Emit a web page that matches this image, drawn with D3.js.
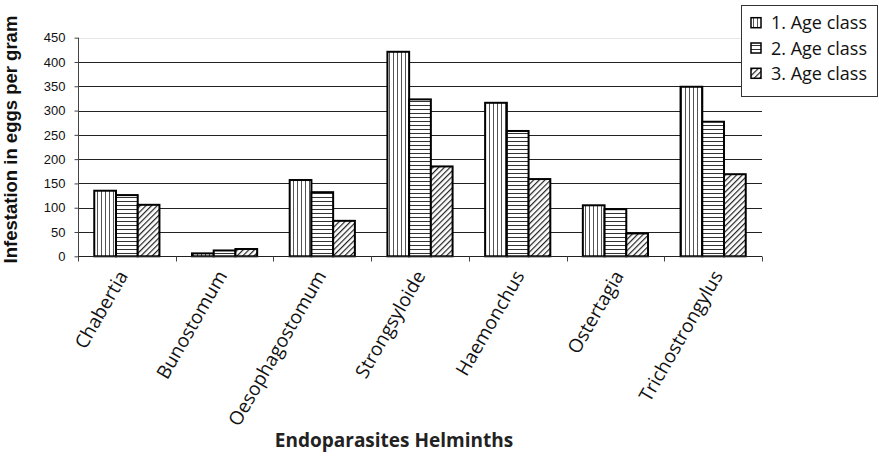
<!DOCTYPE html>
<html>
<head>
<meta charset="utf-8">
<script src="https://cdn.jsdelivr.net/npm/d3@7"></script>
<style>
  html, body { margin: 0; padding: 0; background: #fff; }
  svg { display: block; }
</style>
</head>
<body>
<svg id="chart" width="879" height="457"></svg>
<script>
const categories = ["Chabertia", "Bunostomum", "Oesophagostomum", "Strongsyloide", "Haemonchus", "Ostertagia", "Trichostrongylus"];
const seriesNames = ["1. Age class", "2. Age class", "3. Age class"];
const age1 = [135, 6, 157, 421, 316, 105, 349];
const age2 = [126, 12, 132, 323, 258, 97, 277];
const age3 = [106, 15, 73, 185, 159, 47, 169];
const yTicks = [0, 50, 100, 150, 200, 250, 300, 350, 400, 450];
const yTitle = "Infestation in eggs per gram";
const xTitle = "Endoparasites Helminths";

(function () {
const series = [age1, age2, age3];
const svg = d3.select("#chart");

// patterns
const defs = svg.append("defs");
const pv = defs.append("pattern").attr("id", "p0").attr("patternUnits", "userSpaceOnUse").attr("width", 4).attr("height", 4);
pv.append("rect").attr("width", 4).attr("height", 4).attr("fill", "#fff");
pv.append("rect").attr("x", 1).attr("y", 0).attr("width", 1).attr("height", 4).attr("fill", "#555");
const ph = defs.append("pattern").attr("id", "p1").attr("patternUnits", "userSpaceOnUse").attr("width", 4).attr("height", 4);
ph.append("rect").attr("width", 4).attr("height", 4).attr("fill", "#fff");
ph.append("rect").attr("x", 0).attr("y", 1).attr("width", 4).attr("height", 1).attr("fill", "#333");
const pd = defs.append("pattern").attr("id", "p2").attr("patternUnits", "userSpaceOnUse").attr("width", 4).attr("height", 4)
  .attr("patternTransform", "rotate(45)");
pd.append("rect").attr("width", 4).attr("height", 4).attr("fill", "#fff");
pd.append("rect").attr("x", 0).attr("y", 0).attr("width", 1.2).attr("height", 4).attr("fill", "#222");

const pLeft = 78, pRight = 762, pTop = 37.7, pBottom = 256.3;
const y = d3.scaleLinear().domain([0, 450]).range([pBottom, pTop]);
const x = d3.scaleBand().domain(categories).range([pLeft, pRight]).padding(0);
const groupW = x.bandwidth() * 0.667;
const xs = d3.scaleBand().domain(d3.range(series.length)).range([0, groupW]).padding(0);
const offset = (x.bandwidth() - groupW) / 2;
// label anchor positions (labels drift slightly right relative to the bars)
const xl = d3.scaleBand().domain(categories).range([80, 774]).padding(0);

// gridlines
svg.append("g").selectAll("line").data(yTicks.filter(d => d > 0)).join("line")
  .attr("x1", pLeft).attr("x2", pRight)
  .attr("y1", d => Math.round(y(d)) + 0.5).attr("y2", d => Math.round(y(d)) + 0.5)
  .attr("stroke", d => d === 450 ? "#e6e6e6" : "#222").attr("stroke-width", 1);

// y axis
const yAxis = d3.axisLeft(y).tickValues(yTicks).tickSize(4).tickPadding(9);
const gy = svg.append("g").attr("transform", `translate(${pLeft + 0.5},0)`).call(yAxis);
gy.select(".domain").attr("stroke", "#444").attr("d", `M0,${y(450)}V${y(0)}`);
gy.selectAll(".tick line").attr("stroke", "#444");
gy.selectAll(".tick text").attr("font-family", "Liberation Sans, Arial, sans-serif").attr("font-size", 13).attr("fill", "#111");

// bars
series.forEach((vals, si) => {
  svg.append("g").selectAll("rect").data(vals).join("rect")
    .attr("x", (d, i) => x(categories[i]) + offset + xs(si))
    .attr("y", d => y(d))
    .attr("width", xs.bandwidth())
    .attr("height", d => y(0) - y(d))
    .attr("fill", `url(#p${si})`)
    .attr("stroke", "#000").attr("stroke-width", 2);
});

// x axis
const gx = svg.append("g").attr("transform", `translate(0,${Math.round(y(0)) + 0.5})`);
gx.append("line").attr("x1", pLeft).attr("x2", pRight).attr("stroke", "#222");
const tickXs = categories.map(c => x(c)).concat([pRight]);
gx.selectAll("line.tk").data(tickXs).join("line").attr("class", "tk")
  .attr("x1", d => Math.round(d) + 0.5).attr("x2", d => Math.round(d) + 0.5)
  .attr("y1", 0).attr("y2", 5).attr("stroke", "#444");
gx.selectAll("text").data(categories).join("text")
  .attr("transform", d => `translate(${xl(d) + xl.bandwidth() / 2 - 1},${19}) rotate(-60)`)
  .attr("text-anchor", "end")
  .attr("font-family", "Open Sans, sans-serif").attr("font-size", 19).attr("fill", "#111")
  .text(d => d);

// titles
svg.append("text").attr("transform", `translate(16.5,${(13 + 266) / 2}) rotate(-90)`)
  .attr("text-anchor", "middle").attr("font-family", "Liberation Sans, Arial, sans-serif")
  .attr("font-weight", "bold").attr("font-size", 18.5).attr("fill", "#111").text(yTitle);
svg.append("text").attr("x", 394).attr("y", 447)
  .attr("text-anchor", "middle").attr("font-family", "Open Sans, sans-serif")
  .attr("font-weight", "bold").attr("font-size", 19).attr("fill", "#222").text(xTitle);

// legend
const lg = svg.append("g");
lg.append("rect").attr("x", 741.5).attr("y", 5.5).attr("width", 136).attr("height", 91)
  .attr("fill", "#fff").attr("stroke", "#333").attr("stroke-width", 1);
seriesNames.forEach((name, i) => {
  const cy = 22.7 + i * 25.3;
  lg.append("rect").attr("x", 751).attr("y", cy - 5).attr("width", 10).attr("height", 10)
    .attr("fill", `url(#p${i})`).attr("stroke", "#000").attr("stroke-width", 1.5);
  lg.append("text").attr("x", 771).attr("y", cy + 6.5)
    .attr("font-family", "Open Sans, sans-serif").attr("font-size", 18).attr("fill", "#111").text(name);
});
})();
</script>
</body>
</html>
